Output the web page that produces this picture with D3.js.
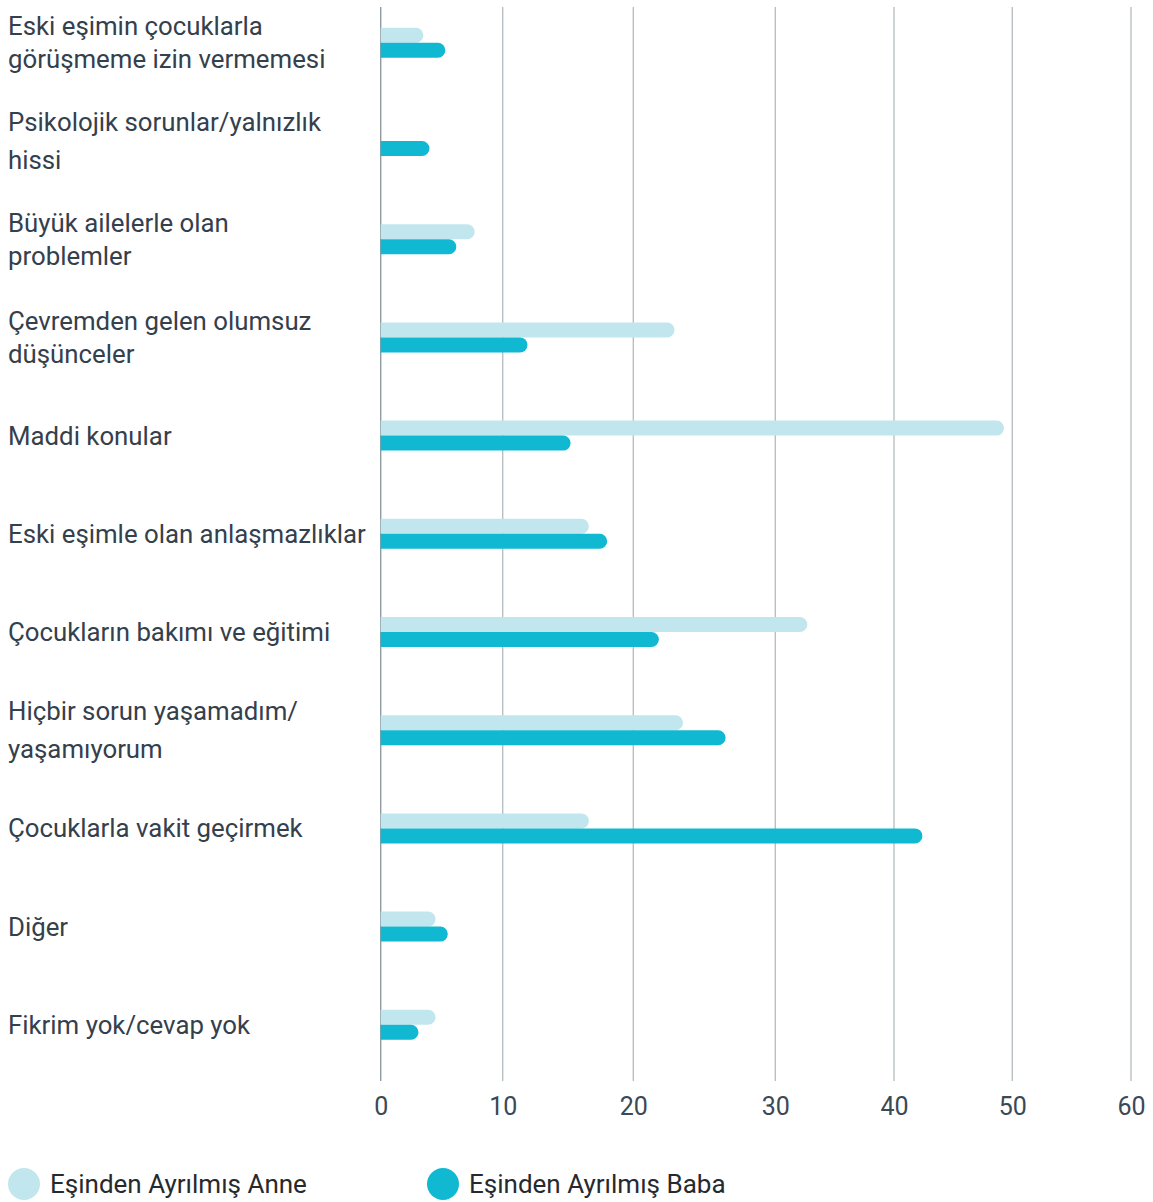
<!DOCTYPE html>
<html lang="tr">
<head>
<meta charset="utf-8">
<script src="https://cdn.jsdelivr.net/npm/d3@7"></script>
<style>
  html, body { margin: 0; padding: 0; background: #fff; }
  svg { display: block; font-family: Roboto, "Noto Sans", sans-serif; }
</style>
</head>
<body>
<svg id="chart" width="1153" height="1202"></svg>
<script>
// Survey answers: what divorced parents find hardest (percent)
const categories = [
  ["Eski eşimin çocuklarla", "görüşmeme izin vermemesi"],
  ["Psikolojik sorunlar/yalnızlık", "hissi"],
  ["Büyük ailelerle olan", "problemler"],
  ["Çevremden gelen olumsuz", "düşünceler"],
  ["Maddi konular"],
  ["Eski eşimle olan anlaşmazlıklar"],
  ["Çocukların bakımı ve eğitimi"],
  ["Hiçbir sorun yaşamadım/", "yaşamıyorum"],
  ["Çocuklarla vakit geçirmek"],
  ["Diğer"],
  ["Fikrim yok/cevap yok"]
];
const motherValues = [3.5, 0, 7.7, 22.9, 49.3, 16.6, 32.7, 23.5, 16.6, 4.5, 4.5];
const fatherValues = [5.3, 4.0, 6.2, 11.9, 15.2, 18.0, 21.8, 26.5, 42.4, 5.5, 3.1];
const seriesNames = ["Eşinden Ayrılmış Anne", "Eşinden Ayrılmış Baba"];
const tickValues = [0, 10, 20, 30, 40, 50, 60];

const colors = ["#c2e6ee", "#10b9d1"];
const svg = d3.select("#chart");

const plotTop = 7, plotBottom = 1081;
const keys = categories.map((d, i) => i);

// value axis: tick columns are not equally spaced, so the scale is piecewise
const x = d3.scaleLinear()
  .domain(tickValues)
  .range([380.7, 502.7, 633.3, 775.3, 894, 1012.3, 1131]);

const y = d3.scaleBand()
  .domain(keys)
  .range([-6.3, 1073.9])
  .paddingInner(0)
  .paddingOuter(0);

const barH = 15;

// grid lines
svg.append("g")
  .selectAll("line")
  .data(tickValues)
  .join("line")
  .attr("x1", d => x(d)).attr("x2", d => x(d))
  .attr("y1", plotTop).attr("y2", plotBottom)
  .attr("stroke", d => d === 0 ? "#8f9ba3" : "#b9c0c4")
  .attr("stroke-width", 1.4);

// tick labels
const axis = d3.axisBottom(x).tickValues(tickValues).tickSize(0).tickPadding(0);
const gAxis = svg.append("g")
  .attr("transform", `translate(0,${plotBottom})`)
  .call(axis);
gAxis.select(".domain").remove();
gAxis.selectAll("text")
  .attr("y", 25)
  .attr("dy", "0.35em")
  .attr("fill", "#3b4856")
  .attr("font-size", 25)
  .attr("font-family", "Roboto, sans-serif");

// bar with a rounded right end
function barPath(x0, x1, yTop, h) {
  const w = x1 - x0;
  if (w <= 0) return "";
  const r = Math.min(h / 2, w);
  return `M${x0},${yTop}H${x1 - r}A${r},${r} 0 0 1 ${x1},${yTop + r}` +
         `V${yTop + h - r}A${r},${r} 0 0 1 ${x1 - r},${yTop + h}H${x0}Z`;
}

const rows = keys.map(i => ({ i, values: [motherValues[i], fatherValues[i]] }));

const gBars = svg.append("g");
rows.forEach(row => {
  const cy = y(row.i) + y.bandwidth() / 2;
  row.values.forEach((v, s) => {
    const yTop = s === 0 ? cy - barH : cy;
    gBars.append("path")
      .attr("d", barPath(x(0), x(v), yTop, barH))
      .attr("fill", colors[s]);
  });
});

// category labels
const gLabels = svg.append("g")
  .attr("fill", "#34404c")
  .attr("font-size", 25.8);
rows.forEach(row => {
  const lines = categories[row.i];
  const cy = y(row.i) + y.bandwidth() / 2;
  const gap = lines.join(" ").includes("/") ? 38 : 33;
  const first = cy - (lines.length - 1) * gap / 2;
  const t = gLabels.append("text").attr("x", 8);
  lines.forEach((ln, k) => {
    t.append("tspan")
      .attr("x", 8)
      .attr("y", first + k * gap)
      .attr("dy", "0.35em")
      .text(ln);
  });
});

// legend
const legendX = [24, 443];
const gLegend = svg.append("g");
seriesNames.forEach((name, s) => {
  gLegend.append("circle")
    .attr("cx", legendX[s]).attr("cy", 1184).attr("r", 16)
    .attr("fill", colors[s]);
  gLegend.append("text")
    .attr("x", legendX[s] + 26).attr("y", 1184)
    .attr("dy", "0.35em")
    .attr("font-size", 26)
    .attr("fill", "#262a2e")
    .text(name);
});
</script>
</body>
</html>
